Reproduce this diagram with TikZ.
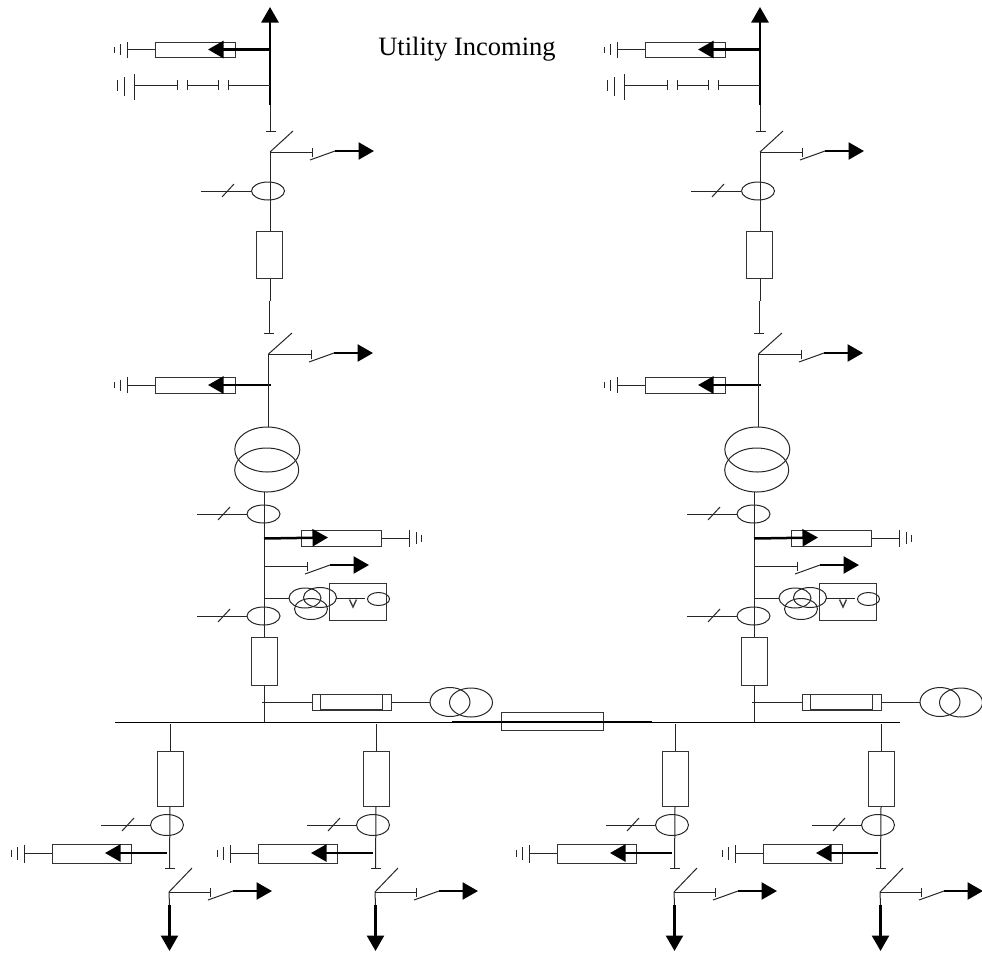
\documentclass[tikz,border=0pt]{standalone}
\usepackage{fontspec}
\setmainfont{Liberation Serif}
\usetikzlibrary{arrows.meta,calc,shapes.geometric}
\tikzset{
  x=1pt,y=-1pt,
  wire/.style={line width=1pt,draw=black!85},
  heavy/.style={line width=2.5pt,draw=black},
  tipped/.style={heavy,-{Triangle[length=15.5pt,width=17pt]},shorten >=0pt},
  box/.style={draw=black!80,line width=1pt,fill=white,inner sep=0pt,rectangle},
  lens/.style={draw=black!85,line width=1pt,ellipse,inner sep=0pt},
  pt/.style={inner sep=0pt,minimum size=0pt},
}
\newcommand{\disc}[5]{% name, cx, cy, rx, ry
  \path[draw=none] (#2,#3) node[lens,minimum width=#4*2pt,minimum height=#5*2pt] (#1) {};}
% ground: three bars beside a point
\newcommand{\gbars}[7]{% prefix x y dx dx2 half half3
  \coordinate (#1a) at (#2,#3);
  \coordinate (#1b) at (#2+#4,#3);
  \coordinate (#1c) at (#2+#5,#3);
  \draw[wire] ($(#1a)+(0,-#6)$) -- ($(#1a)+(0,#6)$);
  \draw[wire] ($(#1b)+(0,-#6+2.5)$) -- ($(#1b)+(0,#6-2.5)$);
  \draw[wire] ($(#1c)+(0,-#7)$) -- ($(#1c)+(0,#7)$);}
% disconnect branch: name, pivot coordinate name, x of bar
\newcommand{\takeoff}[3]{%
  \coordinate (#1b) at (#3,0);
  \coordinate (#1bar) at (#1b |- #2);
  \draw[wire] (#2) -- (#1bar);
  \draw[wire] ($(#1bar)+(0,-4.5)$) -- ($(#1bar)+(0,4.5)$);
  \coordinate (#1s) at ($(#1bar)+(-2,8)$);
  \coordinate (#1k) at ($(#1bar)+(23,-1)$);
  \coordinate (#1t) at ($(#1k)+(39,0)$);
  \draw[wire] (#1s) -- (#1k);
  \draw[tipped] (#1k) -- (#1t);}
\newcommand{\ctleft}[2]{% name, coordinate left end
  \coordinate (#1m) at ($(#2)+(27,0)$);
  \draw[wire] (#2) -- (#1.west);
  \draw[wire] ($(#1m)+(-6,6)$) -- ($(#1m)+(6,-7)$);}
% a feeder below the bus
\newcommand{\feeder}[1]{%
\begin{scope}[shift={(#1,0)}]
  \node[box,minimum width=26pt,minimum height=55pt] (box) at (170,778.5) {};
  \coordinate (top) at (170,724);
  \coordinate (end) at (169.5,868);
  \draw[wire] (top) -- (box.north);
  \draw[wire] (box.south) -- (end);
  \draw[wire] (165,868) -- (175,868);
  \disc{ct}{167}{825}{16.5}{10.5}
  \coordinate (ctl) at (101,825);
  \ctleft{ct}{ctl}
  \node[box,minimum width=79pt,minimum height=19pt] (arr) at (91.5,853.5) {};
  \coordinate (tap) at (167,853);
  \coordinate (tip) at (105,853);
  \draw[tipped] (tap) -- (tip);
  \coordinate (gnd) at (24,853.5);
  \draw[wire] (arr.west) -- (gnd);
  \gbars{g}{24}{853.5}{-7}{-13}{9}{3.5}
  \coordinate (piv) at (169,892);
  \coordinate (bl) at (192,868);
  \draw[wire] (piv) -- (bl);
  \takeoff{t}{piv}{210}
  \coordinate (d1) at (169.5,905);
  \coordinate (d2) at (169.5,951);
  \draw[wire] (piv) -- (d1);
  \draw[tipped] (d1) -- (d2);
\end{scope}}
% an incomer column
\newcommand{\incomer}[1]{%
\begin{scope}[shift={(#1,0)}]
  \coordinate (b1) at (270,105);
  \coordinate (b0) at (270,7);
  \draw[tipped] (b1) -- (b0);
  \node[box,minimum width=80pt,minimum height=15.5pt] (sa) at (195,49.75) {};
  \coordinate (sat) at (270,49.5);
  \coordinate (sah) at (208,49.5);
  \draw[tipped] (sat) -- (sah);
  \draw[wire] (sa.west) -- (127,49.75);
  \gbars{ga}{127}{49.75}{-7}{-12.5}{8}{3}
  \coordinate (c1) at (270,85);\coordinate (c2) at (228,85);
  \coordinate (c3) at (218,85);\coordinate (c4) at (187,85);
  \coordinate (c5) at (177,85);\coordinate (c6) at (135,85);
  \draw[wire] (c1) -- (c2); \draw[wire] (c3) -- (c4); \draw[wire] (c5) -- (c6);
  \foreach \c in {c2,c3,c4,c5}{\draw[wire] ($(\c)+(0,-5)$) -- ($(\c)+(0,5)$);}
  \draw[wire] (134.5,74) -- (134.5,100);
  \draw[wire] (124.5,77) -- (124.5,96);
  \draw[wire] (117,80) -- (117,91);
  \coordinate (e1) at (270,131);
  \draw[wire] (b1) -- (e1);
  \draw[wire] (265.5,131) -- (276,131);
  \coordinate (p1) at (270,152);
  \coordinate (b1l) at (293,131);
  \draw[wire] (p1) -- (b1l);
  \takeoff{ta}{p1}{312}
  \disc{cta}{268}{191}{16.5}{9}
  \coordinate (ctal) at (201,191);
  \ctleft{cta}{ctal}
  \node[box,minimum width=26pt,minimum height=47.5pt] (br) at (269.5,254.75) {};
  \draw[wire] (p1) -- (br.north -| p1);
  \coordinate (l1) at (270.5,301);
  \coordinate (e2) at (269,333);
  \draw[wire] (br.south -| l1) -- (l1);
  \draw[wire] (l1 -| e2) -- (e2);
  \draw[wire] (264,333) -- (274,333);
  \coordinate (p2) at (268.5,354);
  \coordinate (b2l) at (292,333);
  \draw[wire] (p2) -- (b2l);
  \takeoff{tb}{p2}{311}
  \node[box,minimum width=80pt,minimum height=15.5pt] (sb) at (195,385.25) {};
  \coordinate (sbt) at (271,385);
  \coordinate (sbh) at (208,385);
  \draw[tipped] (sbt) -- (sbh);
  \draw[wire] (sb.west) -- (127,385.25);
  \gbars{gb}{127}{385.25}{-7}{-12.5}{8}{3}
  \disc{ta1}{267.3}{449.5}{32.5}{22.5}
  \disc{ta2}{266.7}{470}{32}{22}
  \draw[wire] (p2) -- (268.5,427);
  \coordinate (v0) at (264,492);
  \coordinate (v1) at (264,722);
  \disc{ctb}{263.5}{514}{16.5}{9}
  \coordinate (ctbl) at (197,514);
  \ctleft{ctb}{ctbl}
  \node[box,minimum width=80pt,minimum height=16pt] (sc) at (341,538) {};
  \coordinate (sct) at (264,538.5);
  \coordinate (sch) at (328,537.5);
  \draw[wire] (v0) -- (v1);
  \draw[tipped] (sct) -- (sch);
  \draw[wire] (sc.east) -- (409.5,538);
  \gbars{gc}{409.5}{538}{6.5}{12}{8.5}{3.5}
  \coordinate (p3) at (264,566);
  \takeoff{tc}{p3}{307}
  \coordinate (vt0) at (264,598);
  \disc{vta}{305}{598}{16}{10}
  \disc{vtb}{320}{597.5}{16.5}{10}
  \disc{vtc}{311}{609}{16.5}{10.5}
  \draw[wire] (vt0) -- (vta.west);
  \node[box,fill=none,minimum width=56.5pt,minimum height=36.5pt] (vb) at (357.75,601.75) {};
  \disc{vm}{378.5}{599}{11}{6.5}
  \coordinate (vl) at (336,598.5);
  \coordinate (vr) at (365,598.5);
  \draw[wire] (vl) -- (vr);
  \draw[line width=1.4pt,draw=black!75] (349.5,599.5) -- (353,607) -- (356.5,599.5);
  \disc{ctc}{263.5}{616}{16.5}{9}
  \coordinate (ctcl) at (197,616);
  \ctleft{ctc}{ctcl}
  \node[box,minimum width=26pt,minimum height=48pt] (bb) at (264.5,661.5) {};
  \node[box,minimum width=79.5pt,minimum height=16pt] (aux) at (351.75,702) {};
  \node[box,fill=none,minimum width=62.5pt,minimum height=15.5pt] (auxi) at (351.25,701.75) {};
  \coordinate (au0) at (262,702);
  \draw[wire] (au0) -- (aux.west);
  \disc{tra}{450}{702}{20}{14.5}
  \disc{trb}{471}{702.5}{21.5}{14.5}
  \draw[wire] (aux.east) -- (tra.west);
\end{scope}}
\begin{document}
\begin{tikzpicture}[x=1pt,y=-1pt]
  \useasboundingbox (0,0) rectangle (982,954);
  \node[pt,anchor=center,font=\fontsize{26.5}{30}\selectfont] (title) at (467,49.5) {Utility Incoming};
  \incomer{0}
  \incomer{490}
  \coordinate (busl) at (115,722);
  \coordinate (busr) at (900,722);
  \coordinate (bsl) at (452,721.5);
  \coordinate (bsr) at (652,721.5);
  \draw[line width=1.8pt] (bsl) -- (bsr);
  \node[box,fill=none,minimum width=102pt,minimum height=18pt] (bsb) at (552.5,721.5) {};
  \draw[wire,draw=black] (busl) -- (busr);
  \feeder{0}
  \feeder{206}
  \feeder{505}
  \feeder{711}
\end{tikzpicture}
\end{document}
